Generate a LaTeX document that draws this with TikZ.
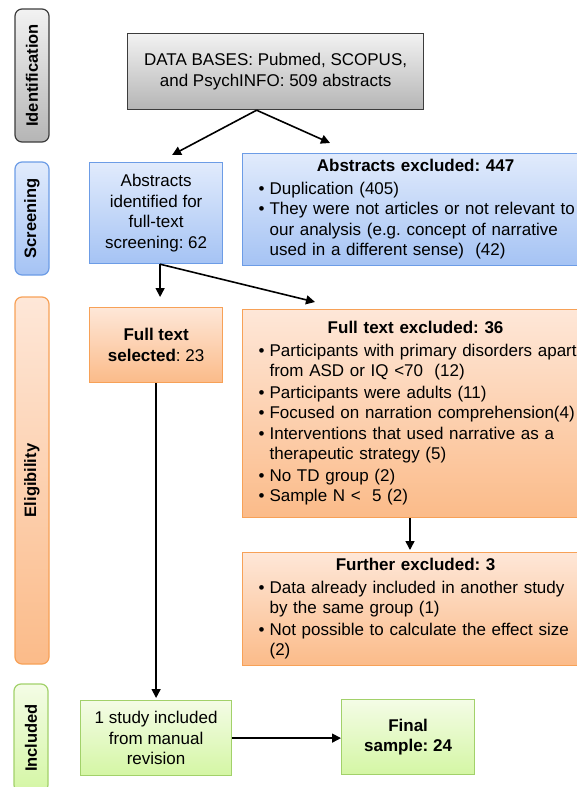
\documentclass[tikz,border=0pt]{standalone}
\usepackage{fontspec}
\setmainfont{Liberation Sans}
\usepackage{graphicx}
\usetikzlibrary{arrows.meta}

\definecolor{greytop}{HTML}{F2F2F2}
\definecolor{greybot}{HTML}{B5B5B5}
\definecolor{greyline}{HTML}{3C3C3C}
\definecolor{bluetop}{HTML}{E1EBFC}
\definecolor{bluebot}{HTML}{A5C3F4}
\definecolor{blueline}{HTML}{6C9CE6}
\definecolor{orangetop}{HTML}{FEE7D8}
\definecolor{orangebot}{HTML}{FBBB89}
\definecolor{orangeline}{HTML}{F7A157}
\definecolor{greentop}{HTML}{F4FCE6}
\definecolor{greenbot}{HTML}{D4F6A4}
\definecolor{greenline}{HTML}{A2D16A}

\newcommand{\bitem}[1]{\par\noindent\makebox[11pt][l]{\strut\textbullet}%
  \parbox[t]{319pt}{\raggedright\strut #1\strut}}
\newcommand{\listtitle}[1]{\noindent\makebox[314pt]{\strut\bfseries #1}\par\vspace{2pt}}

\begin{document}
\frenchspacing
\begin{tikzpicture}[x=1pt,y=-1pt]
    \tikzset{box/.style={draw, line width=1.2pt, anchor=north west, inner sep=0pt,
        align=center, font=\fontsize{17pt}{20.5pt}\selectfont},
      greybox/.style={box, draw=greyline, top color=greytop, bottom color=greybot},
      bluebox/.style={box, draw=blueline, top color=bluetop, bottom color=bluebot},
      orangebox/.style={box, draw=orangeline, top color=orangetop, bottom color=orangebot},
      greenbox/.style={box, draw=greenline, top color=greentop, bottom color=greenbot},
      listbox/.style={text width=330pt, inner xsep=16pt, align=left},
      sidebar/.style={draw, line width=1.2pt, rounded corners=7pt, minimum width=34pt,
        inner sep=0pt, font=\fontsize{16.5pt}{18pt}\selectfont\bfseries},
      flow/.style={line width=1.6pt, -{Triangle[length=9pt,width=9pt]}}}
    \useasboundingbox (0,0) rectangle (577,787);
    \clip (0,0) rectangle (577,787);

    \node[sidebar, draw=greyline, top color=greytop, bottom color=greybot,
      minimum height=133pt] (ident) at (32,75.5) {\rotatebox{90}{Identification}};
    \node[sidebar, draw=blueline, top color=bluetop, bottom color=bluebot,
      minimum height=113pt] (screen) at (32,218.5) {\rotatebox{90}{Screening}};
    \node[sidebar, draw=orangeline, top color=orangetop, bottom color=orangebot,
      minimum height=367pt] (elig) at (32,480.5) {\rotatebox{90}{Eligibility}};
    \node[sidebar, draw=greenline, top color=greentop, bottom color=greenbot,
      minimum height=108pt] (incl) at (31,738) {\rotatebox{90}{Included}};

    \node[greybox, minimum width=296pt, minimum height=76pt] (db) at (127,33)
      {DATA BASES: Pubmed, SCOPUS,\\and PsychINFO: 509 abstracts};
    \node[bluebox, minimum width=133pt, minimum height=101pt] (abstr) at (89,162)
      {Abstracts\\identified for\\full-text\\screening: 62};
    \node[bluebox, listbox, minimum height=112pt] (excla) at (242,153)
      {\listtitle{Abstracts excluded: 447}
       \bitem{Duplication (405)}
       \bitem{They were not articles or not relevant to\\our analysis (e.g. concept of narrative\\used in a different sense)\ \ (42)}};
    \node[orangebox, minimum width=133pt, minimum height=75pt] (sel) at (89,307)
      {\textbf{Full text}\\\textbf{selected}: 23};
    \node[orangebox, listbox, minimum height=208pt] (exclb) at (242,309)
      {\listtitle{Full text excluded: 36}
       \bitem{Participants with primary disorders apart\\from ASD or IQ <70\ \ (12)}
       \bitem{Participants were adults (11)}
       \bitem{Focused on narration comprehension(4)}
       \bitem{Interventions that used narrative as a\\therapeutic strategy (5)}
       \bitem{No TD group (2)}
       \bitem{Sample N <\ \ 5 (2)}};
    \node[orangebox, listbox, minimum height=113pt] (further) at (242,552)
      {\listtitle{Further excluded: 3}
       \bitem{Data already included in another study\\by the same group (1)}
       \bitem{Not possible to calculate the effect size\\(2)}};
    \node[greenbox, minimum width=151pt, minimum height=75pt] (study) at (80,700)
      {1 study included\\from manual\\revision};
    \node[greenbox, minimum width=133pt, minimum height=75pt] (final) at (341,699)
      {\textbf{Final}\\\textbf{sample: 24}};

    \draw[flow] ([xshift=-19pt]db.south) -- ([xshift=16pt,yshift=7pt]abstr.north);
    \draw[flow] ([xshift=-19pt]db.south) -- ([xshift=88pt,yshift=10pt]excla.north west);
    \draw[flow] ([xshift=4pt]abstr.south) -- ([xshift=4pt,yshift=10pt]sel.north);
    \draw[flow] ([xshift=4pt]abstr.south) -- ([xshift=73pt,yshift=7pt]exclb.north west);
    \draw[flow] ([xshift=168pt]exclb.south west) -- ([xshift=168pt,yshift=2pt]further.north west);
    \draw[flow] (sel.south) -- ([yshift=2pt]study.north);
    \draw[flow] (study.east) -- (study.east -| final.west);
\end{tikzpicture}
\end{document}
